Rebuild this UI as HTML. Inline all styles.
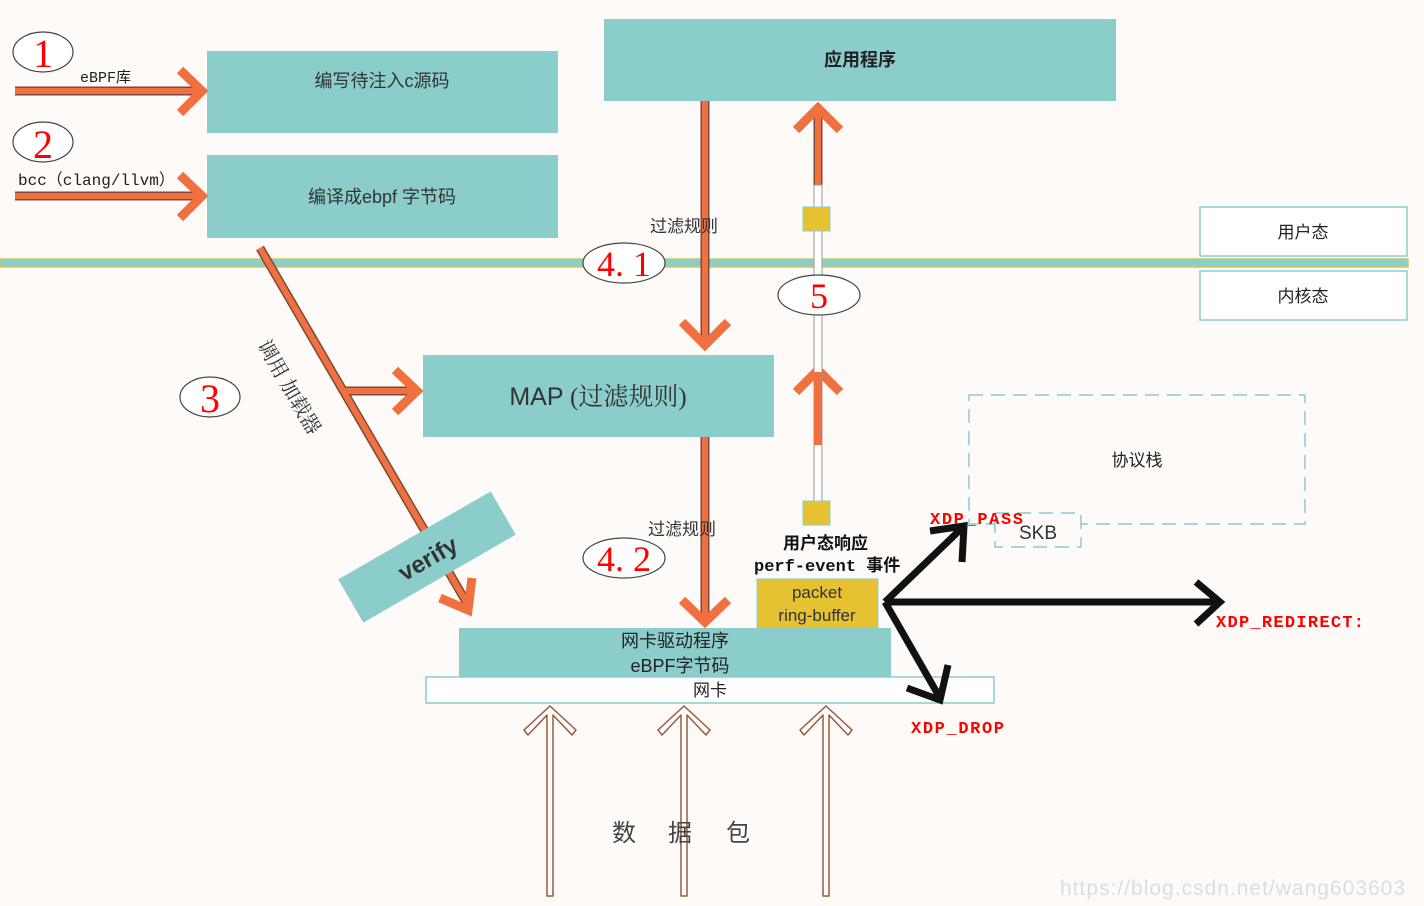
<!DOCTYPE html>
<html><head><meta charset="utf-8"><style>
html,body{margin:0;padding:0;background:#fdfaf7;}
svg{display:block;}
text{font-family:"Liberation Sans","Noto Sans CJK SC",sans-serif;}
.s{font-family:"Liberation Serif","Noto Serif CJK SC",serif;}
.m{font-family:"Liberation Mono","Noto Sans CJK SC",monospace;}
</style></head><body>
<svg width="1424" height="906" viewBox="0 0 1424 906" xmlns="http://www.w3.org/2000/svg">
<rect width="1424" height="906" fill="#fdfaf7"/>
<defs>
<g id="ha"><polygon points="0,-1 26,23 22,28 3,8 3,189 -3,189 -3,8 -22,28 -26,23" fill="#fff" stroke="#9a5a3a" stroke-width="1.5" stroke-linejoin="round"/></g>
</defs>
<rect x="207" y="51" width="351" height="82" fill="#8bcdca"/>
<text x="382" y="87" font-size="18" text-anchor="middle" fill="#333">编写待注入c源码</text>
<rect x="207" y="155" width="351" height="83" fill="#8bcdca"/>
<text x="382" y="203" font-size="18" text-anchor="middle" fill="#333">编译成ebpf 字节码</text>
<rect x="604" y="19" width="512" height="82" fill="#8bcdca"/>
<text x="860" y="66" font-size="18" font-weight="bold" text-anchor="middle" fill="#222">应用程序</text>
<rect x="0" y="259" width="1408" height="8" fill="#8bcdca" stroke="#c8c860" stroke-width="1.5"/>
<rect x="1200" y="207" width="207" height="49" fill="#fff" stroke="#8bcdca" stroke-width="1.5"/>
<text x="1303" y="238" font-size="17" text-anchor="middle" fill="#222">用户态</text>
<rect x="1200" y="271" width="207" height="49" fill="#fff" stroke="#8bcdca" stroke-width="1.5"/>
<text x="1303" y="302" font-size="17" text-anchor="middle" fill="#222">内核态</text>
<rect x="423" y="355" width="351" height="82" fill="#8bcdca"/>
<text x="598" y="405" font-size="25" text-anchor="middle" fill="#333">MAP <tspan class="s">(过滤规则)</tspan></text>
<rect x="969" y="395" width="336" height="129" fill="none" stroke="#8bcdca" stroke-width="1.5" stroke-dasharray="14,8"/>
<text x="1137" y="466" font-size="17" text-anchor="middle" fill="#222">协议栈</text>
<rect x="995" y="513" width="86" height="34" fill="#fdfaf7" stroke="#8bcdca" stroke-width="1.5" stroke-dasharray="14,8"/>
<text x="1038" y="539" font-size="19" text-anchor="middle" fill="#333">SKB</text>
<rect x="459" y="628" width="432" height="49" fill="#8bcdca"/>
<text x="675" y="647" font-size="18" text-anchor="middle" fill="#222">网卡驱动程序</text>
<text x="680" y="672" font-size="18" text-anchor="middle" fill="#222">eBPF字节码</text>
<rect x="426" y="677" width="568" height="26" fill="#fff" stroke="#8bcdca" stroke-width="1.5"/>
<text x="710" y="696" font-size="17" text-anchor="middle" fill="#222">网卡</text>
<rect x="757" y="579" width="121" height="49" fill="#e6c232" stroke="#8bcdca" stroke-width="1"/>
<text x="817" y="598" font-size="17" text-anchor="middle" fill="#333">packet</text>
<text x="817" y="621" font-size="17" text-anchor="middle" fill="#333">ring-buffer</text>
<g stroke-linecap="butt" fill="none">
<g stroke="#7a4a3a" stroke-width="9">
<line x1="15" y1="91" x2="200" y2="91"/><line x1="15" y1="196" x2="200" y2="196"/>
<line x1="705" y1="101" x2="705" y2="340"/><line x1="705" y1="437" x2="705" y2="618"/>
<line x1="260" y1="248" x2="468" y2="605"/><line x1="345" y1="391" x2="415" y2="391"/>
<line x1="818" y1="110" x2="818" y2="185"/><line x1="818" y1="372" x2="818" y2="445"/>
</g>
<g stroke="#f07040" stroke-width="6">
<line x1="15" y1="91" x2="200" y2="91"/><line x1="15" y1="196" x2="200" y2="196"/>
<line x1="705" y1="101" x2="705" y2="340"/><line x1="705" y1="437" x2="705" y2="618"/>
<line x1="260" y1="248" x2="468" y2="605"/><line x1="345" y1="391" x2="415" y2="391"/>
<line x1="818" y1="110" x2="818" y2="185"/><line x1="818" y1="372" x2="818" y2="445"/>
</g>
<g stroke="#f07040" stroke-width="9" stroke-linejoin="miter">
<polyline points="180,70 202,91 180,113"/><polyline points="180,175 202,196 180,218"/>
<polyline points="682,322 705,345 728,322"/><polyline points="682,600 705,622 728,600"/>
<polyline points="395,370 417,391 395,412"/>
<polyline points="796,130 818,108 840,130"/><polyline points="796,392 818,370 840,392"/>
</g>
</g>
<rect x="814" y="185" width="8" height="316" fill="#fff" stroke="#999" stroke-width="1"/>
<rect x="814" y="372" width="8" height="73" fill="#f07040"/>
<rect x="803" y="207" width="27" height="24" fill="#e6c232" stroke="#8bcdca"/>
<rect x="803" y="501" width="27" height="24" fill="#e6c232" stroke="#8bcdca"/>
<g transform="translate(427,557) rotate(-30)">
<rect x="-88" y="-25" width="176" height="50" fill="#8bcdca"/>
<text x="0" y="10" font-size="24" font-weight="bold" text-anchor="middle" fill="#333">verify</text>
</g>
<line x1="452" y1="578" x2="468" y2="605" stroke="#f07040" stroke-width="6"/>
<polyline points="440,598 468,610 472,578" stroke="#f07040" stroke-width="9" fill="none"/>
<text transform="translate(257,345) rotate(60)" font-size="20" fill="#333" class="s">调用 加载器</text>
<g fill="#fff" stroke="#444" stroke-width="1.2">
<ellipse cx="43" cy="52" rx="30" ry="20"/><ellipse cx="43" cy="142" rx="30" ry="20"/>
<ellipse cx="210" cy="397" rx="30" ry="20"/><ellipse cx="624" cy="263" rx="41" ry="20"/>
<ellipse cx="819" cy="295" rx="41" ry="20"/><ellipse cx="624" cy="558" rx="41" ry="20"/>
</g>
<g class="s" fill="#f00" text-anchor="middle" font-size="40">
<text x="43" y="67" class="s">1</text><text x="43" y="158" class="s">2</text>
<text x="210" y="412" class="s">3</text><text x="624" y="276" class="s" font-size="36">4. 1</text>
<text x="819" y="308" class="s" font-size="36">5</text><text x="624" y="571" class="s" font-size="36">4. 2</text>
</g>
<text x="80" y="82" font-size="15" class="m" fill="#222">eBPF库</text>
<text x="18" y="185" font-size="16" class="m" fill="#222">bcc（clang/llvm）</text>
<text x="650" y="232" font-size="17" fill="#333">过滤规则</text>
<text x="648" y="535" font-size="17" fill="#333">过滤规则</text>
<text x="783" y="549" font-size="17" font-weight="bold" fill="#111">用户态响应</text>
<text x="754" y="571" font-size="17" font-weight="bold" class="m" fill="#111">perf-event 事件</text>
<g stroke="#111" stroke-width="7" fill="none">
<line x1="885" y1="602" x2="962" y2="528"/><line x1="885" y1="602" x2="1218" y2="602"/><line x1="885" y1="602" x2="940" y2="698"/>
<polyline points="930,531 964,526 962,562"/><polyline points="1196,582 1220,602 1196,624"/><polyline points="907,688 940,700 948,665"/>
</g>
<g font-size="17" font-weight="bold" fill="#f00">
<text x="930" y="524" class="m" textLength="93">XDP_PASS</text>
<text x="1216" y="627" class="m" textLength="148">XDP_REDIRECT:</text>
<text x="911" y="733" class="m" textLength="93">XDP_DROP</text>
</g>
<use href="#ha" x="550" y="707"/><use href="#ha" x="684" y="707"/><use href="#ha" x="826" y="707"/>
<text x="612" y="841" font-size="24" fill="#444">数</text>
<text x="668" y="841" font-size="24" fill="#444">据</text>
<text x="726" y="841" font-size="24" fill="#444">包</text>
<text x="1060" y="895" font-size="21" fill="#ddd" textLength="345">https://blog.csdn.net/wang603603</text>
</svg>
</body></html>
